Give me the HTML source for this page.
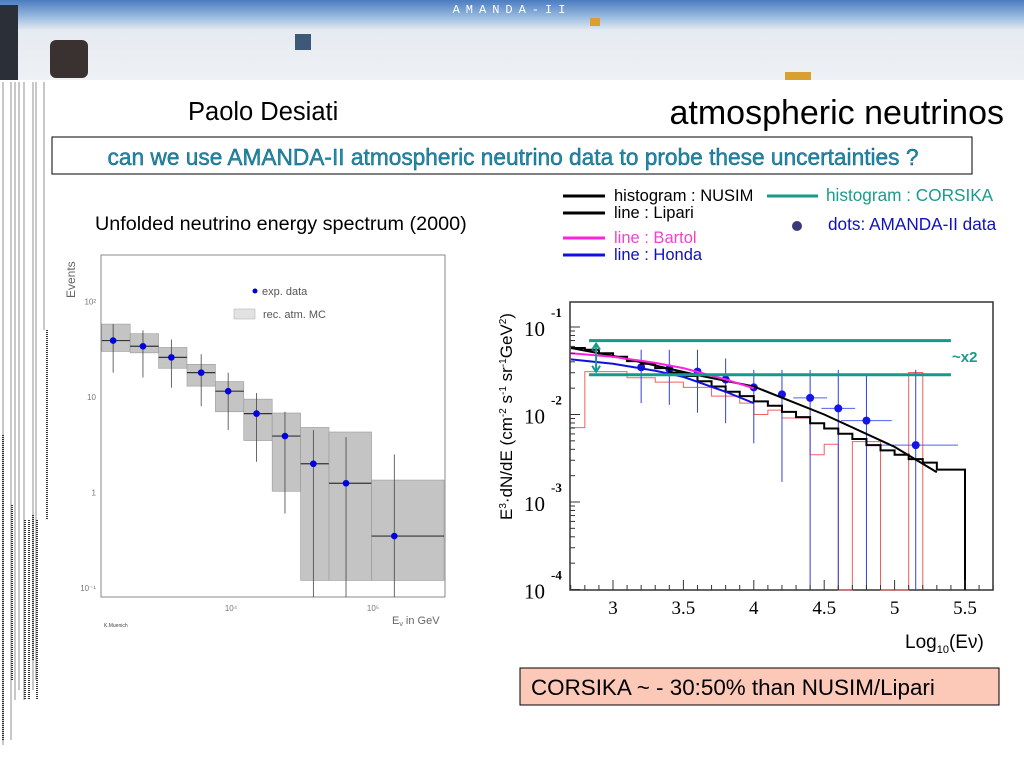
<!DOCTYPE html>
<html><head><meta charset="utf-8"><style>
body{margin:0;width:1024px;height:768px;overflow:hidden;background:#fff;font-family:"Liberation Sans",sans-serif}
svg{display:block}
</style></head><body>
<svg id="s" width="1024" height="768" viewBox="0 0 1024 768" xmlns="http://www.w3.org/2000/svg">
<defs>
<linearGradient id="sky" x1="0" y1="0" x2="0" y2="1">
<stop offset="0" stop-color="#4a7cc0"/><stop offset="0.22" stop-color="#9dbde0"/><stop offset="0.38" stop-color="#e6ebf1"/><stop offset="1" stop-color="#eef1f5"/>
</linearGradient>
</defs>
<g>
<rect x="0" y="0" width="1024" height="80" fill="url(#sky)"/>
<rect x="0" y="5" width="18" height="75" fill="#2a2f38"/>
<rect x="50" y="40" width="38" height="38" rx="6" fill="#3a3230"/>
<rect x="295" y="34" width="16" height="16" fill="#3c5a78"/>
<rect x="590" y="18" width="10" height="8" fill="#d8a030"/>
<rect x="785" y="72" width="26" height="8" fill="#d8a030"/>
<text x="512" y="13" text-anchor="middle" font-family="Liberation Mono,monospace" font-size="12" fill="#fff" letter-spacing="6">AMANDA-II</text>
</g>
<g stroke="#c8c8c8" stroke-width="2">
<line x1="3" y1="82" x2="3" y2="745"/><line x1="11" y1="82" x2="11" y2="740"/><line x1="15" y1="82" x2="15" y2="700"/>
<line x1="19" y1="82" x2="19" y2="690"/><line x1="24" y1="82" x2="24" y2="700"/><line x1="33" y1="82" x2="33" y2="690"/><line x1="36" y1="82" x2="36" y2="680"/><line x1="44" y1="82" x2="44" y2="330"/>
<g stroke="#333" stroke-width="2" stroke-dasharray="1 1"><line x1="12" y1="505" x2="12" y2="680"/><line x1="25" y1="520" x2="25" y2="700"/><line x1="29" y1="520" x2="29" y2="700"/><line x1="33" y1="515" x2="33" y2="660"/><line x1="37" y1="520" x2="37" y2="700"/><line x1="47" y1="330" x2="47" y2="520"/><line x1="3" y1="435" x2="3" y2="740"/></g>
</g>
<text x="188" y="120" font-size="25.5">Paolo Desiati</text>
<text x="1004" y="124" text-anchor="end" font-size="34">atmospheric neutrinos</text>
<rect x="52" y="137" width="920" height="37" fill="#fff" stroke="#000" stroke-width="1"/>
<text x="513" y="165" text-anchor="middle" font-size="22.7" fill="#1a8fa8" stroke="#0b4f78" stroke-width="0.4">can we use AMANDA-II atmospheric neutrino data to probe these uncertainties ?</text>
<text x="95" y="230" font-size="19.8">Unfolded neutrino energy spectrum (2000)</text>

<g id="left">
<rect x="101" y="255" width="344" height="342" fill="#fff" stroke="#888" stroke-width="1"/>
<text transform="translate(75,298) rotate(-90)" font-size="12" fill="#666">Events</text>
<text x="262" y="295" font-size="11" fill="#555">exp. data</text>
<circle cx="255" cy="291" r="2.5" fill="#0000d0"/>
<rect x="234" y="309" width="21" height="10" fill="#e2e2e2" stroke="#aaa" stroke-width="0.5"/>
<text x="263" y="318" font-size="11" fill="#555">rec. atm. MC</text>
<text x="392" y="624" font-size="11" fill="#666">E<tspan font-size="7" dy="2">ν</tspan><tspan dy="-2"> in GeV</tspan></text>
<text x="104" y="627" font-size="5" fill="#444">K.Muenich</text>
</g>

<g id="right">
<rect x="570" y="302" width="423" height="288" fill="#fff" stroke="#333" stroke-width="1.5"/>
<text transform="translate(512,520) rotate(-90)" font-size="17">E<tspan font-size="10" dy="-6">3</tspan><tspan dy="6">·dN/dE (cm</tspan><tspan font-size="10" dy="-6">-2</tspan><tspan dy="6"> s</tspan><tspan font-size="10" dy="-6">-1</tspan><tspan dy="6"> sr</tspan><tspan font-size="10" dy="-6">-1</tspan><tspan dy="6">GeV</tspan><tspan font-size="10" dy="-6">2</tspan><tspan dy="6">)</tspan></text>
<text x="905" y="648" font-size="19">Log<tspan font-size="11" dy="5">10</tspan><tspan dy="-5">(Eν)</tspan></text>
<text x="952" y="362" font-size="15" font-weight="bold" fill="#1a9a8a">~x2</text>
</g>

<g>
<line x1="563" y1="196" x2="605" y2="196" stroke="#000" stroke-width="3"/>
<text x="614" y="201" font-size="16.5">histogram : NUSIM</text>
<line x1="563" y1="213" x2="605" y2="213" stroke="#000" stroke-width="3"/>
<text x="614" y="218" font-size="16.5">line : Lipari</text>
<line x1="563" y1="238" x2="605" y2="238" stroke="#ff22dd" stroke-width="3"/>
<text x="614" y="243" font-size="16.5" fill="#ee44cc">line : Bartol</text>
<line x1="563" y1="255" x2="605" y2="255" stroke="#1010e0" stroke-width="3"/>
<text x="614" y="260" font-size="16.5" fill="#1010c0">line : Honda</text>
<line x1="767" y1="196" x2="818" y2="196" stroke="#1a9a8a" stroke-width="3"/>
<text x="826" y="201" font-size="17.2" fill="#1a9a8a">histogram : CORSIKA</text>
<circle cx="797" cy="226" r="5" fill="#3a3a7a"/>
<text x="828" y="230" font-size="17.2" fill="#1010c0">dots: AMANDA-II data</text>
</g>
<rect x="520" y="668" width="479" height="37" fill="#fcc8b8" stroke="#000" stroke-width="1"/>
<text x="531" y="695" font-size="22.4">CORSIKA ~ - 30:50% than NUSIM/Lipari</text>
</svg>
<script>
// ---- Left chart data (log10 E in GeV, events) ----
const leftBinEdges = [3.09, 3.29, 3.49, 3.69, 3.89, 4.09, 4.29, 4.49, 4.69, 4.99, 5.5];
const leftMcLow  = [30, 29, 20, 13, 7, 3.5, 1.03, 0.12, 0.12, 0.12];
const leftMcHigh = [58, 46, 33, 22, 14.5, 9.5, 6.8, 4.8, 4.3, 1.35];
const leftDataX = [3.17, 3.38, 3.58, 3.79, 3.98, 4.18, 4.38, 4.58, 4.81, 5.15];
const leftDataY = [39, 34, 26, 18, 11.5, 6.7, 3.9, 2.0, 1.25, 0.35];
const leftErrLow  = [18, 16, 12.5, 8, 4.5, 2.1, 0.6, 0.08, 0.08, 0.08];
const leftErrHigh = [58, 50, 40, 28, 18, 11, 7, 4.5, 3.8, 2.5];
const leftYTicks = [2, 1, 0, -1];
const leftYTickLabels = ["10²", "10", "1", "10⁻¹"];
const leftXTicks = [4, 5];
const leftXTickLabels = ["10⁴", "10⁵"];

// ---- Right chart data (log10 E, log10 flux) ----
const nusimEdges0 = 2.7, nusimBinW = 0.1;
const nusimLog = [-1.24,-1.26,-1.30,-1.34,-1.39,-1.42,-1.47,-1.52,-1.56,-1.62,-1.68,-1.74,-1.79,-1.85,-1.90,-1.97,-2.03,-2.10,-2.16,-2.22,-2.28,-2.35,-2.41,-2.46,-2.51,-2.55,-2.63,-2.63];
const lipariX = [2.7, 3.0, 3.3, 3.6, 4.0, 4.5, 5.0, 5.3];
const lipariY = [-1.24, -1.33, -1.44, -1.55, -1.68, -2.0, -2.37, -2.66];
const bartolX = [2.7, 3.0, 3.3, 3.5, 3.8, 4.0];
const bartolY = [-1.30, -1.34, -1.41, -1.47, -1.60, -1.70];
const hondaX = [2.7, 3.0, 3.3, 3.5, 3.8, 4.0];
const hondaY = [-1.37, -1.42, -1.50, -1.57, -1.74, -1.87];
const corsikaEdges = [2.7, 2.8, 3.1, 3.3, 3.5, 3.7, 3.9, 4.0, 4.1, 4.2, 4.4, 4.5, 4.6, 4.7, 4.9, 5.1, 5.2];
const corsikaLog = [-2.15, -1.51, -1.58, -1.63, -1.69, -1.79, -1.87, -2.0, -1.95, -2.04, -2.46, -2.34, null, -2.31, null, -1.52];
const amandaX = [3.2, 3.4, 3.6, 3.8, 4.0, 4.2, 4.4, 4.6, 4.8, 5.15];
const amandaY = [-1.46, -1.48, -1.51, -1.60, -1.69, -1.77, -1.81, -1.93, -2.07, -2.35];
const amandaErrHi = [-1.26, -1.26, -1.26, -1.36, -1.49, -1.49, -1.49, -1.49, -1.55, -1.49];
const amandaErrLo = [-1.87, -1.89, -1.98, -2.10, -2.33, -2.77, null, null, null, null];
const amandaXErr = [0, 0, 0, 0, 0, 0, 0.12, 0.12, 0.18, 0.3];
const corsikaBandY = [-1.156, -1.546];
const rightXTicks = [3, 3.5, 4, 4.5, 5, 5.5];
const rightXTickLabels = ["3", "3.5", "4", "4.5", "5", "5.5"];
const rightYTicks = [-1, -2, -3, -4];
const rightYTickLabels = ["-1", "-2", "-3", "-4"];

const NS = "http://www.w3.org/2000/svg";
function mk(parent, tag, attrs){const e=document.createElementNS(NS,tag);for(const k in attrs)e.setAttribute(k,attrs[k]);parent.appendChild(e);return e;}

// left axes
const lx = v => 231 + (v - 4) * 142;
const ly = v => 397 - (Math.log10(v) - 1) * 95.5;
const lyl = l => 397 - (l - 1) * 95.5;
const L = document.getElementById('left');
for (let i = 0; i < leftMcLow.length; i++) {
  const x0 = Math.max(101, lx(leftBinEdges[i])), x1 = Math.min(445, lx(leftBinEdges[i+1]));
  const r = mk(L, 'rect', {x:x0, y:ly(leftMcHigh[i]), width:x1-x0, height:ly(leftMcLow[i])-ly(leftMcHigh[i]), fill:'#c4c4c4', stroke:'#999', 'stroke-width':0.6});
  
  
  const h = mk(L, 'line', {x1:x0, x2:x1, y1:ly(leftDataY[i]), y2:ly(leftDataY[i]), stroke:'#333', 'stroke-width':1.2});
  
  
}
for (let i = 0; i < leftDataX.length; i++) {
  const x = lx(leftDataX[i]);
  const e = mk(L, 'line', {x1:x, x2:x, y1:Math.max(255, ly(leftErrHigh[i])), y2:Math.min(597, ly(leftErrLow[i])), stroke:'#444', 'stroke-width':0.8});
  
  
  const c = mk(L, 'circle', {cx:x, cy:ly(leftDataY[i]), r:3.3, fill:'#0000e0'});
  
  
}
for (let i = 0; i < leftYTicks.length; i++) {
  const t = mk(L, 'text', {x:96, y:lyl(leftYTicks[i])+3, 'text-anchor':'end', 'font-size':8, fill:'#777'});
  t.textContent = leftYTickLabels[i];
  
  
}
for (let i = 0; i < leftXTicks.length; i++) {
  const t = mk(L, 'text', {x:lx(leftXTicks[i]), y:611, 'text-anchor':'middle', 'font-size':8, fill:'#777'});
  t.textContent = leftXTickLabels[i];
  
  
}

// right axes
const rx = v => 613 + (v - 3) * 140.8;
const ry = l => 327 - (l + 1) * 87.5;
const R = document.getElementById('right');
function poly(pts, stroke, w, name){
  const p = mk(R, 'polyline', {points:pts.map(q=>q.join(',')).join(' '), fill:'none', stroke:stroke, 'stroke-width':w});
  
  
}
// corsika red histogram
{
  const bottom = 590; let pts = [];
  for (let i = 0; i < corsikaLog.length; i++) {
    const y = corsikaLog[i] === null ? bottom : ry(corsikaLog[i]);
    pts.push([rx(corsikaEdges[i]), y], [rx(corsikaEdges[i+1]), y]);
  }
  pts.push([rx(corsikaEdges[corsikaEdges.length-1]), bottom]);
  pts[0][0] = 571;
  poly(pts, '#f06060', 1, 'corsika-histogram');
}
// amanda data
for (let i = 0; i < amandaX.length; i++) {
  const x = rx(amandaX[i]), y = ry(amandaY[i]);
  const lo = amandaErrLo[i] === null ? 590 : ry(amandaErrLo[i]);
  poly([[x, ry(amandaErrHi[i])], [x, lo]], '#3040e0', 1, 'amanda-error-bar');
  if (amandaXErr[i] > 0) poly([[rx(amandaX[i]-amandaXErr[i]), y], [rx(amandaX[i]+amandaXErr[i]), y]], '#5060f0', 1, 'amanda-x-error');
  const c = mk(R, 'circle', {cx:x, cy:y, r:4, fill:'#1515e8'});
  
  
}
// nusim histogram
{
  let pts = [];
  for (let i = 0; i < nusimLog.length; i++) {
    const a = nusimEdges0 + i*nusimBinW, b = a + nusimBinW;
    pts.push([rx(a), ry(nusimLog[i])], [rx(b), ry(nusimLog[i])]);
  }
  pts.push([rx(nusimEdges0 + nusimLog.length*nusimBinW), 590]);
  pts[0][0] = 571;
  poly(pts, '#000', 2, 'nusim-histogram');
}
poly(lipariX.map((v,i)=>[Math.max(571,rx(v)), ry(lipariY[i])]), '#000', 2, 'lipari-line');
poly(bartolX.map((v,i)=>[Math.max(571,rx(v)), ry(bartolY[i])]), '#ff20e0', 2, 'bartol-line');
poly(hondaX.map((v,i)=>[Math.max(571,rx(v)), ry(hondaY[i])]), '#1010e0', 2, 'honda-line');
// teal band
corsikaBandY.forEach(l => poly([[rx(2.83), ry(l)], [rx(5.4), ry(l)]], '#139a8c', 3, 'corsika-band-line'));
{
  const ax = rx(2.88), y1 = ry(corsikaBandY[0]) + 3, y2 = ry(corsikaBandY[1]) - 3;
  poly([[ax, y1], [ax, y2]], '#139a8c', 2, 'band-arrow');
  poly([[ax-4, y1+6], [ax, y1], [ax+4, y1+6]], '#139a8c', 2, 'band-arrow-head-top');
  poly([[ax-4, y2-6], [ax, y2], [ax+4, y2-6]], '#139a8c', 2, 'band-arrow-head-bottom');
}
// ticks
for (let v = 2.7; v <= 5.71; v += 0.1) {
  const x = rx(v), major = Math.abs(v*2 - Math.round(v*2)) < 0.01;
  poly([[x, 590], [x, 590 - (major ? 10 : 5)]], '#333', 1, 'right-x-tick');
}
for (let i = 0; i < rightXTicks.length; i++) {
  const t = mk(R, 'text', {x:rx(rightXTicks[i]), y:614, 'text-anchor':'middle', 'font-size':19, 'font-family':'Liberation Serif,serif'});
  t.textContent = rightXTickLabels[i];
  
  
}
for (let i = 0; i < rightYTicks.length; i++) {
  const y = ry(rightYTicks[i]);
  poly([[570, y], [580, y]], '#333', 1, 'right-y-tick');
  for (let k = 2; k <= 9; k++) { const yy = ry(rightYTicks[i] - 1 + Math.log10(k)); if (yy > 302 && yy < 590) poly([[570, yy], [575, yy]], '#333', 1, 'right-y-minor-tick'); }
  const t = mk(R, 'text', {x:524, y:y+9, 'font-size':21, 'font-family':'Liberation Serif,serif'});
  t.textContent = '10';
  
  
  const e = mk(R, 'text', {x:551, y:y-10, 'font-size':13, 'font-weight':'bold', 'font-family':'Liberation Serif,serif'});
  e.textContent = rightYTickLabels[i];
  
  
}
</script>
</body></html>
